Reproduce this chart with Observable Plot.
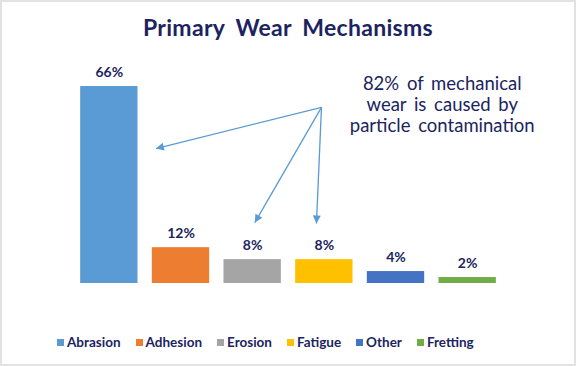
<!DOCTYPE html>
<html>
<head>
<meta charset="utf-8">
<script src="https://cdn.jsdelivr.net/npm/d3@7"></script>
<script src="https://cdn.jsdelivr.net/npm/@observablehq/plot@0.6"></script>
<style>
  html, body { margin: 0; padding: 0; background: #fff; }
  #wrap { position: relative; width: 576px; height: 366px; overflow: hidden; background: #fff; font-family: Lato, "Open Sans", sans-serif; }
  #frame { position: absolute; left: 0; top: 0; width: 576px; height: 366px; box-sizing: border-box; border: 2px solid #e2e2e2; pointer-events: none; z-index: 5; }
  #chart { position: absolute; left: 0; top: 0; }
  #title { position: absolute; left: 0; width: 576px; top: 12px; text-align: center; font-size: 23px; font-weight: 700; color: #1b2460; word-spacing: 5px; letter-spacing: 0.3px; line-height: 30px; }
  #legend { position: absolute; left: 57px; top: 333px; display: flex; align-items: center; font-size: 13.5px; font-weight: 700; color: #1b2460; line-height: 18px; }
  .item { display: flex; align-items: center; margin-right: 15px; }
  .sw { width: 7px; height: 7px; margin-right: 3px; }
</style>
</head>
<body>
<div id="wrap">
  <div id="chart"></div>
  <div id="title"></div>
  <div id="legend"></div>
  <div id="frame"></div>
</div>
<script>
const titleText = "Primary Wear Mechanisms";
const mechanisms = ["Abrasion", "Adhesion", "Erosion", "Fatigue", "Other", "Fretting"];
const shares = [66, 12, 8, 8, 4, 2];
const colors = ["#5B9BD5", "#ED7D31", "#A5A5A5", "#FFC000", "#4472C4", "#70AD47"];
const noteLines = ["82% of mechanical", "wear is caused by", "particle contamination"];
const notePos = {x: 4.645, y: 60};
// arrows: start (bar index position, % value) -> end
const arrowX1 = [2.96, 2.96, 2.96];
const arrowY1 = [59, 59, 59];
const arrowX2 = [0.65, 2.03, 2.89];
const arrowY2 = [45.2, 20.4, 20.1];

const navy = "#1b2460";
const bars = mechanisms.map((m, i) => ({name: m, idx: i, share: shares[i]}));
const arrows = arrowX1.map((x, i) => ({x1: x, y1: arrowY1[i], x2: arrowX2[i], y2: arrowY2[i]}));

const plot = Plot.plot({
  width: 576,
  height: 366,
  marginLeft: 73,
  marginRight: 73,
  marginTop: 86,
  marginBottom: 83,
  x: {domain: [-0.5, 5.5], axis: null},
  y: {domain: [0, 66], axis: null},
  color: {domain: mechanisms, range: colors},
  style: {fontFamily: "Lato, 'Open Sans', sans-serif", background: "transparent"},
  marks: [
    Plot.rectY(bars, {x1: d => d.idx - 0.4, x2: d => d.idx + 0.4, y1: 0, y2: "share", fill: "name"}),
    Plot.text(bars, {x: "idx", y: "share", text: d => d.share + "%", dy: -14, fontSize: 14, fontWeight: 700, fill: navy}),
    Plot.link(arrows, {x1: "x1", y1: "y1", x2: "x2", y2: "y2", stroke: "#5B9BD5", strokeWidth: 1.3, className: "annot-arrow"}),
    Plot.text([noteLines.join("\n")], {x: () => notePos.x, y: () => notePos.y, text: d => d, fontSize: 18.5, lineHeight: 1.135, fill: navy, textAnchor: "middle", className: "annot-note"})
  ]
});

// filled triangular arrowheads
const svgNS = "http://www.w3.org/2000/svg";
const defs = document.createElementNS(svgNS, "defs");
const marker = document.createElementNS(svgNS, "marker");
marker.setAttribute("id", "tri-head");
marker.setAttribute("viewBox", "0 0 10 10");
marker.setAttribute("refX", "10");
marker.setAttribute("refY", "5");
marker.setAttribute("markerWidth", "10");
marker.setAttribute("markerHeight", "8");
marker.setAttribute("markerUnits", "userSpaceOnUse");
marker.setAttribute("orient", "auto");
const mp = document.createElementNS(svgNS, "path");
mp.setAttribute("d", "M0,0L10,5L0,10Z");
mp.setAttribute("fill", "#5B9BD5");
marker.appendChild(mp);
defs.appendChild(marker);
plot.insertBefore(defs, plot.firstChild);
plot.querySelectorAll(".annot-arrow path, .annot-arrow line").forEach(p => p.setAttribute("marker-end", "url(#tri-head)"));
plot.querySelectorAll(".annot-note text").forEach(t => t.setAttribute("word-spacing", "3"));

document.getElementById("chart").appendChild(plot);
document.getElementById("title").textContent = titleText;

const legend = document.getElementById("legend");
mechanisms.forEach((m, i) => {
  const item = document.createElement("div");
  item.className = "item";
  const sw = document.createElement("span");
  sw.className = "sw";
  sw.style.background = colors[i];
  const lab = document.createElement("span");
  lab.textContent = m;
  item.appendChild(sw);
  item.appendChild(lab);
  legend.appendChild(item);
});
</script>
</body>
</html>
